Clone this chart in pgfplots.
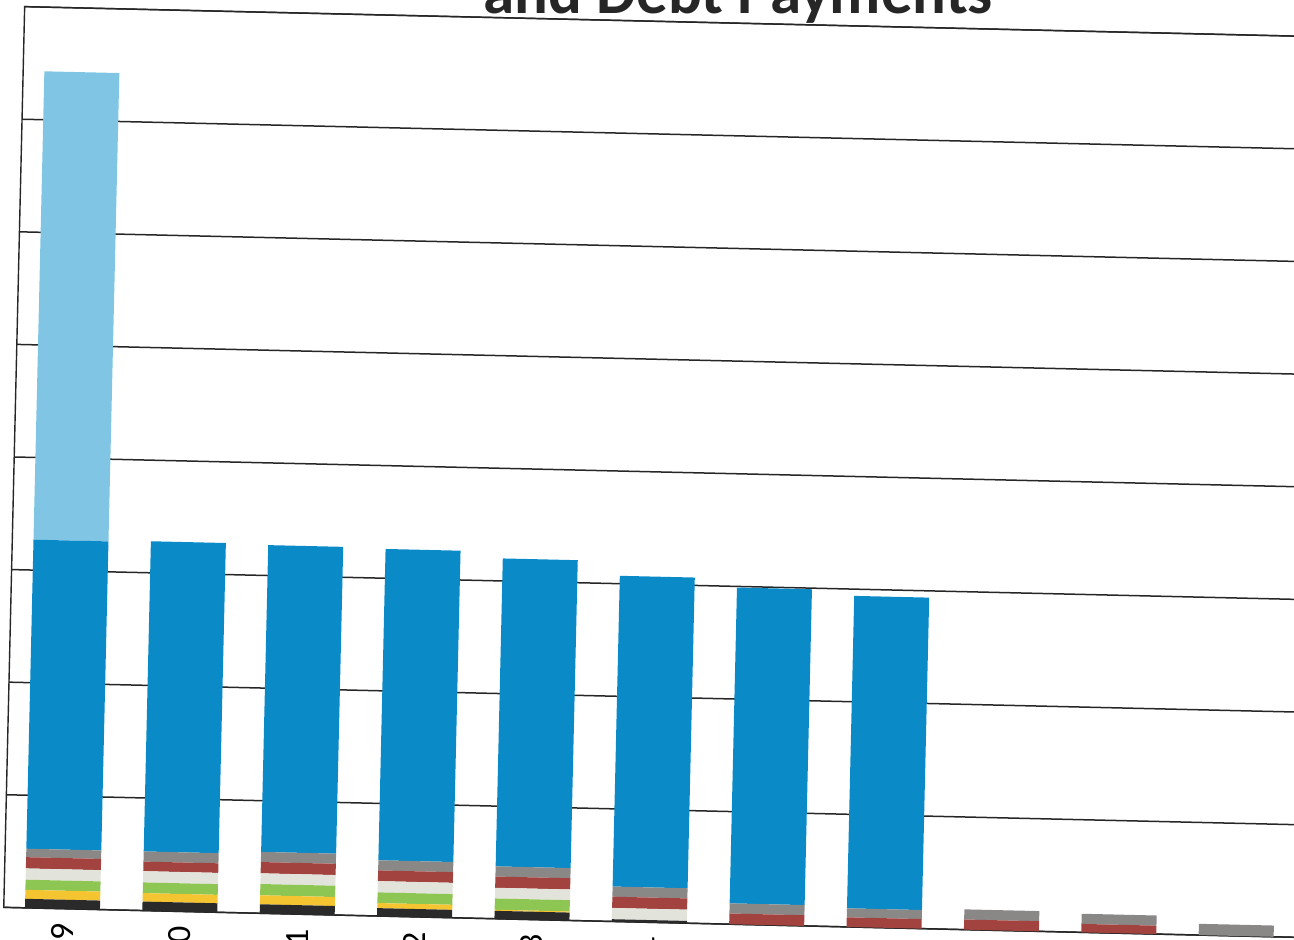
\documentclass[border=0pt]{standalone}
\usepackage{pgfplots}
\usepackage{pgfplotstable}
\pgfplotsset{compat=1.18}
\usepackage{fontspec}
\setmainfont{Carlito}
\definecolor{cblack}{HTML}{2A2A2A}
\definecolor{cyellow}{HTML}{F4C530}
\definecolor{cgreen}{HTML}{8DC653}
\definecolor{clight}{HTML}{E2E3DA}
\definecolor{cred}{HTML}{A3433F}
\definecolor{cgrey}{HTML}{8A8787}
\definecolor{cblue}{HTML}{0A8BC8}
\definecolor{clblue}{HTML}{80C6E4}
\pgfplotstableread{
x black yellow green light red grey blue lblue
0 0.08 0.08 0.09 0.10 0.10 0.075 2.745 4.16
1 0.08 0.075 0.095 0.10 0.085 0.09 2.755 0
2 0.08 0.08 0.10 0.095 0.10 0.09 2.725 0
3 0.07 0.045 0.095 0.10 0.095 0.09 2.765 0
4 0.07 0.01 0.10 0.095 0.10 0.09 2.735 0
5 0.02 0 0 0.10 0.10 0.09 2.76 0
6 0 0 0 0 0.095 0.09 2.805 0
7 0 0 0 0 0.085 0.08 2.775 0
8 0 0 0 0 0.09 0.09 0 0
9 0 0 0 0 0.075 0.09 0 0
10 0 0 0 0 0 0.10 0 0
}\data
\begin{document}
\begin{tikzpicture}
\begin{axis}[
  at={(2.25pt,1pt)}, anchor=south west,
  rotate around={-1.33:(9pt,16pt)},
  scale only axis, width=651.6pt, height=450.5pt,
  ybar stacked, bar width=37.5pt,
  xmin=-0.5, xmax=10.6, ymin=0, ymax=8,
  xtick=data,
  xticklabels={2009,2010,2011,2012,2013,2014,2015,2016,2017,2018,2019},
  xticklabel style={yshift=-4pt, rotate=90, anchor=east, font=\fontsize{17}{17}\selectfont},
  x tick style={draw=none},
  ytick={0,1,...,8}, yticklabels={},
  y tick style={draw=none},
  ymajorgrids, grid style={draw=black!85, line width=0.75pt},
  axis line style={draw=black!85, line width=0.7pt},
  every axis plot/.append style={draw=none},
]
\addplot[fill=cblack] table[x=x,y=black]{\data};
\addplot[fill=cyellow] table[x=x,y=yellow]{\data};
\addplot[fill=cgreen] table[x=x,y=green]{\data};
\addplot[fill=clight] table[x=x,y=light]{\data};
\addplot[fill=cred] table[x=x,y=red]{\data};
\addplot[fill=cgrey] table[x=x,y=grey]{\data};
\addplot[fill=cblue] table[x=x,y=blue]{\data};
\addplot[fill=clblue] table[x=x,y=lblue]{\data};
\end{axis}
\node[anchor=base east, font=\fontsize{31.5}{32}\selectfont\bfseries, text=black!85] at (500pt,463pt) {and Debt Payments};
\pgfresetboundingbox
\useasboundingbox (0,0) rectangle (647pt,470pt);
\end{tikzpicture}
\end{document}
